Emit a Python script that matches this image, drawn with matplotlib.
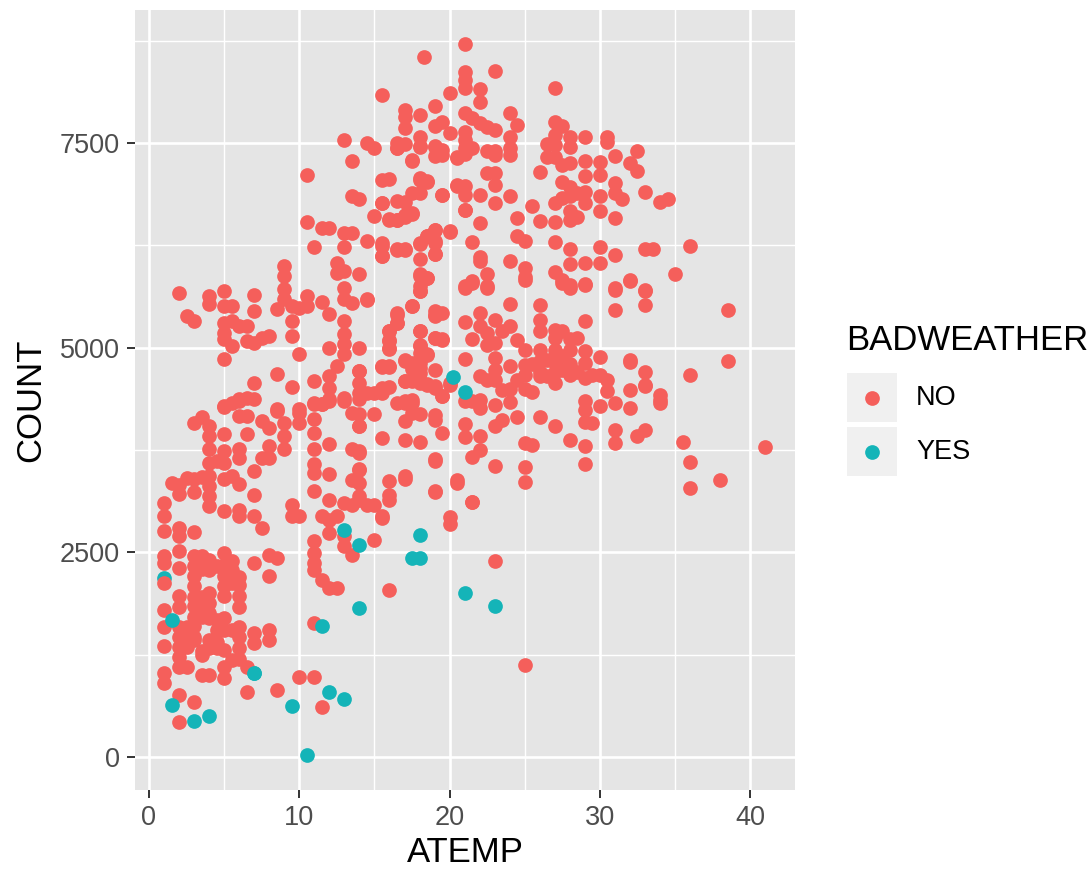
"""Scatter of daily COUNT against ATEMP, split by BADWEATHER (ggplot look)."""

import matplotlib

matplotlib.use("Agg")
import matplotlib.pyplot as plt
from matplotlib.patches import Rectangle

# (ATEMP, COUNT), one list per temperature band
no_cold = [
    (1, 3105), (1, 2940), (1, 2757), (1, 2450), (1, 2370), (1, 2124), (1, 1797), (1, 1593), (1, 1356), (1, 1021), (1, 899),
    (1.5, 3350), (2, 3207), (2, 3320), (2, 2798), (2, 2696), (2, 2512), (2, 2308), (2, 1961), (2, 1838), (2, 1593),
    (2, 1470), (2, 1348), (2, 1225), (2, 1103), (2, 756), (2, 429), (2, 5670),
    (2.5, 3411), (2.5, 1593), (2.5, 1470), (2.5, 1348), (2.5, 1103), (2.5, 5386),
    (3, 3390), (3, 3240), (3, 2748), (3, 2450), (3, 2330), (3, 2205), (3, 2085), (3, 1960), (3, 1840), (3, 1715),
    (3, 1595), (3, 1470), (3, 1430), (3, 675), (3, 4080), (3, 5325),
    (3.5, 3420), (3.5, 4150), (3.5, 2450), (3.5, 2300), (3.5, 1960), (3.5, 1840), (3.5, 1715), (3.5, 1300), (3.5, 1240), (3.5, 1000),
    (4, 4040), (4, 3920), (4, 3757), (4, 3595), (4, 3430), (4, 3310), (4, 3185), (4, 3065), (4, 2410), (4, 2286),
    (4, 2000), (4, 1880), (4, 1760), (4, 1700), (4, 1430), (4, 1327), (4, 1000), (4, 5630), (4, 5528),
    (4.5, 3615), (4.5, 2330), (4.5, 1675), (4.5, 1550), (4.5, 1400), (4.5, 1327),
    (5, 3940), (5, 3738), (5, 3595), (5, 3390), (5, 3003), (5, 2492), (5, 2349), (5, 2206), (5, 2083), (5, 1961),
    (5, 1695), (5, 1552), (5, 1307), (5, 1103), (5, 960), (5, 4270), (5, 4288), (5, 4858), (5, 5100), (5, 5183),
    (5, 5305), (5, 5508), (5, 5690),
    (5.5, 3431), (5.5, 2400), (5.5, 2288), (5.5, 2124), (5.5, 1552), (5.5, 1185), (5.5, 4329), (5.5, 5020), (5.5, 5325), (5.5, 5508),
    (6, 3758), (6, 3656), (6, 3329), (6, 3023), (6, 2941), (6, 2200), (6, 2100), (6, 1961), (6, 1838), (6, 1593), (6, 1470), (6, 1328),
    (6, 1200), (6, 4350), (6, 4167), (6, 4370), (6, 5264),
    (6.5, 3940), (6.5, 797), (6.5, 1103), (6.5, 4167), (6.5, 4390), (6.5, 5264), (6.5, 5080),
    (7, 3493), (7, 3195), (7, 2941), (7, 2369), (7, 1511), (7, 1389), (7, 4370), (7, 4573), (7, 5060), (7, 5447), (7, 5640),
    (7.5, 2798), (7.5, 3656), (7.5, 4105), (7.5, 5120),
    (8, 3799), (8, 3656), (8, 2471), (8, 2206), (8, 1552), (8, 1430), (8, 4024), (8, 5142),
    (8.5, 4228), (8.5, 817), (8.5, 2430), (8.5, 4248), (8.5, 4675), (8.5, 5467),
    (9, 3758), (9, 3921), (9, 4085), (9, 5996), (9, 5874), (9, 5711), (9, 5590),
    (9.5, 3084), (9.5, 2941), (9.5, 4524), (9.5, 5325), (9.5, 5142), (9.5, 5508),
]

no_mild = [
    (10, 2941), (10, 4207), (10, 4085), (10, 980), (10, 4248), (10, 4919), (10, 5488),
    (10.5, 5508), (10.5, 5630), (10.5, 6532), (10.5, 7114),
    (11, 4126), (11, 3962), (11, 3758), (11, 3574), (11, 3472), (11, 3248), (11, 2635), (11, 2492), (11, 2369),
    (11, 2288), (11, 980), (11, 1634), (11, 4310), (11, 4329), (11, 4593), (11, 6232),
    (11.5, 2941), (11.5, 2165), (11.5, 613), (11.5, 4310), (11.5, 4309), (11.5, 5560), (11.5, 6463),
    (12, 3820), (12, 3452), (12, 3145), (12, 2900), (12, 2737), (12, 2063), (12, 4350), (12, 4370), (12, 4512),
    (12, 4654), (12, 5000), (12, 5406), (12, 6463),
    (12.5, 2063), (12.5, 2941), (12.5, 4776), (12.5, 5915), (12.5, 6037),
    (13, 3105), (13, 2696), (13, 2574), (13, 4350), (13, 4390), (13, 4919), (13, 5040), (13, 5163), (13, 5325),
    (13, 5590), (13, 5732), (13, 5935), (13, 6232), (13, 6402), (13, 7540),
    (13.5, 2471), (13.5, 3758), (13.5, 4207), (13.5, 3080), (13.5, 3380), (13.5, 5549), (13.5, 6402), (13.5, 6858), (13.5, 7276),
    (14, 4187), (14, 3513), (14, 3350), (14, 3145), (14, 4044), (14, 3717), (14, 3734), (14, 3510), (14, 3185),
    (14, 4040), (14, 4711), (14, 4447), (14, 4370), (14, 4573), (14, 4715), (14, 5000), (14, 5894), (14, 6817),
    (14.5, 3080), (14.5, 4451), (14.5, 5590), (14.5, 5586), (14.5, 6300), (14.5, 7500),
    (15, 2650), (15, 3075), (15, 4190), (15, 4451), (15, 6606), (15, 7439),
    (15.5, 2941), (15.5, 2920), (15.5, 3897), (15.5, 4447), (15.5, 4512), (15.5, 4764), (15.5, 4776), (15.5, 6118),
    (15.5, 6240), (15.5, 6768), (15.5, 7053), (15.5, 6114), (15.5, 6276), (15.5, 6764), (15.5, 8085),
    (16, 2040), (16, 3205), (16, 3376), (16, 3140), (16, 4520), (16, 4764), (16, 4776), (16, 4980), (16, 5000),
    (16, 5081), (16, 5098), (16, 5200), (16, 5203), (16, 6565), (16, 6570), (16, 7057),
    (16.5, 4329), (16.5, 5301), (16.5, 5305), (16.5, 5403), (16.5, 5427), (16.5, 6195), (16.5, 6200), (16.5, 6560),
    (16.5, 6565), (16.5, 6789), (16.5, 7435), (16.5, 7439), (16.5, 7504),
    (17, 3429), (17, 3400), (17, 3869), (17, 4100), (17, 4329), (17, 4345), (17, 4589), (17, 4593), (17, 4837),
    (17, 4853), (17, 6195), (17, 6200), (17, 6600), (17, 6626), (17, 6776), (17, 7490), (17, 7687), (17, 7821), (17, 7902),
    (17.5, 4202), (17.5, 4329), (17.5, 4365), (17.5, 4589), (17.5, 4735), (17.5, 4813), (17.5, 5508), (17.5, 5513),
    (17.5, 6638), (17.5, 6642), (17.5, 6890), (17.5, 7280), (17.5, 7288),
    (18, 3844), (18, 4190), (18, 4569), (18, 4593), (18, 4695), (18, 4752), (18, 4817), (18, 4935), (18, 5020),
    (18, 5037), (18, 5200), (18, 5203), (18, 5688), (18, 5691), (18, 5748), (18, 5870), (18, 5894), (18, 6085),
    (18, 6268), (18, 6280), (18, 6886), (18, 7049), (18, 7073), (18, 7455), (18, 7460), (18, 7577), (18, 7841),
    (18.3, 8545), (18.5, 4548), (18.5, 4553), (18.5, 4915), (18.5, 4919), (18.5, 5850), (18.5, 5854), (18.5, 6358),
    (18.5, 6360), (18.5, 7020), (18.5, 7033),
    (19, 3238), (19, 3250), (19, 3620), (19, 3645), (19, 4121), (19, 4182), (19, 4512), (19, 4528), (19, 4723),
    (19, 5118), (19, 5122), (19, 5386), (19, 5403), (19, 5447), (19, 6138), (19, 6142), (19, 6280), (19, 6297),
    (19, 6439), (19, 6443), (19, 7337), (19, 7447), (19, 7460), (19, 7707), (19, 7951),
    (19.5, 3958), (19.5, 4406), (19.5, 4410), (19.5, 5098), (19.5, 5102), (19.5, 5423), (19.5, 6866), (19.5, 6870),
    (19.5, 7354), (19.5, 7420), (19.5, 7760),
]

no_warm = [
    (20, 2850), (20, 2932), (20, 4548), (20, 4573), (20, 6410), (20, 6423), (20, 7626), (20, 8114),
    (20.5, 3348), (20.5, 3380), (20.5, 6980), (20.5, 6990), (20.5, 7317), (20.5, 7325),
    (21, 3909), (21, 4072), (21, 4345), (21, 4866), (21, 5309), (21, 5728), (21, 5748), (21, 6683), (21, 6687),
    (21, 6866), (21, 6980), (21, 7366), (21, 7435), (21, 7537), (21, 7638), (21, 7862), (21, 8167), (21, 8268),
    (21, 8370), (21, 8707),
    (21.5, 3116), (21.5, 3110), (21.5, 3661), (21.5, 4345), (21.5, 5106), (21.5, 5790), (21.5, 5809), (21.5, 6289),
    (21.5, 7435), (21.5, 7800),
    (22, 3755), (22, 3917), (22, 4260), (22, 4365), (22, 4658), (22, 5260), (22, 5423), (22, 6053), (22, 6106),
    (22, 6528), (22, 6866), (22, 7740), (22, 7996), (22, 8154),
    (22.5, 4609), (22.5, 5037), (22.5, 5179), (22.5, 5728), (22.5, 5748), (22.5, 5902), (22.5, 7130), (22.5, 7402), (22.5, 7700),
    (23, 2394), (23, 3551), (23, 4039), (23, 4304), (23, 4609), (23, 4731), (23, 4874), (23, 5057), (23, 5342),
    (23, 6764), (23, 6988), (23, 7130), (23, 7354), (23, 7402), (23, 7659), (23, 8382),
    (23.5, 4121), (23.5, 4487), (23.5, 5200),
    (24, 4333), (24, 4500), (24, 4772), (24, 5260), (24, 5537), (24, 6053), (24, 6854), (24, 7354), (24, 7435), (24, 7577), (24, 7862),
    (24.5, 4153), (24.5, 4600), (24.5, 5098), (24.5, 6366), (24.5, 6581), (24.5, 7720),
    (25, 1124), (25, 3356), (25, 3543), (25, 3836), (25, 4500), (25, 4670), (25, 4792), (25, 4976), (25, 5830), (25, 5862),
    (25, 5972), (25, 6297),
    (25.5, 3807), (25.5, 4459), (25.5, 4800), (25.5, 6732),
    (26, 4153), (26, 4650), (26, 4700), (26, 4833), (26, 4976), (26, 5200), (26, 5342), (26, 5525), (26, 6541), (26, 7142),
    (26.5, 4650), (26.5, 4850), (26.5, 7333), (26.5, 7488),
    (27, 4039), (27, 4569), (27, 4700), (27, 4813), (27, 4976), (27, 5118), (27, 5220), (27, 5919), (27, 6289), (27, 6533),
    (27, 6772), (27, 7333), (27, 7476), (27, 7598), (27, 7760), (27, 8167),
    (27.5, 4731), (27.5, 4900), (27.5, 5200), (27.5, 5790), (27.5, 5829), (27.5, 6825), (27.5, 7028), (27.5, 7232), (27.5, 7707),
    (28, 3877), (28, 4670), (28, 4800), (28, 4976), (28, 5100), (28, 5729), (28, 5768), (28, 6024), (28, 6203), (28, 6561), (28, 6663),
    (28, 6858), (28, 6967), (28, 7252), (28, 7455), (28, 7577),
    (28.5, 4700), (28.5, 5118), (28.5, 6594), (28.5, 6886),
    (29, 3584), (29, 3795), (29, 4088), (29, 4243), (29, 4345), (29, 4630), (29, 4813), (29, 4955), (29, 5321),
    (29, 5769), (29, 5780), (29, 6033), (29, 6772), (29, 6906), (29, 7102), (29, 7280), (29, 7577),
    (29.5, 4080), (29.5, 4670),
    (30, 4292), (30, 4670), (30, 4886), (30, 6033), (30, 6224), (30, 6663), (30, 6858), (30, 7110), (30, 7264),
    (30.5, 4467), (30.5, 4609), (30.5, 7516), (30.5, 7577),
    (31, 3836), (31, 3990), (31, 4324), (31, 5464), (31, 5708), (31, 5728), (31, 6134), (31, 6581), (31, 6886),
    (31, 7008), (31, 7345),
    (31.5, 6817), (32, 4263), (32, 4487), (32, 4825), (32, 4845), (32, 5810), (32, 5821), (32, 7260),
    (32.5, 3917), (32.5, 7163), (32.5, 7402),
    (33, 3990), (33, 4532), (33, 4548), (33, 4700), (33, 5525), (33, 5688), (33, 5707), (33, 6203), (33, 6898),
    (33.5, 6203), (34, 4324), (34, 4365), (34, 4421), (34, 6776), (34.5, 6817),
    (35, 5898), (35.5, 3850), (36, 3286), (36, 3600), (36, 4666), (36, 6236),
    (38, 3383), (38.5, 4837), (38.5, 5460), (41, 3786),
]

# these two sit underneath the NO points in the picture
yes_under = [(1, 2185), (7, 1021)]
yes_over = [
    (1.5, 633), (1.5, 1675), (3, 437), (4, 502), (7, 1030), (9.5, 620), (10.5, 20), (11.5, 1605), (12, 788), (13, 703),
    (13, 2770), (14, 1818), (14, 2594), (17.5, 2430), (18, 2430), (18, 2710), (20.2, 4642), (21, 4459), (21, 2003), (23, 1844),
]

x_ticks = [0, 10, 20, 30, 40]
x_minor = [5, 15, 25, 35]
y_ticks = [0, 2500, 5000, 7500]
y_minor = [1250, 3750, 6250, 8750]
legend_labels = ["NO", "YES"]

RED = "#F55F5B"
TEAL = "#14B4B8"
PANEL = "#E5E5E5"
KEY_BG = "#F0F0F0"
TICK_TEXT = "#4D4D4D"
FONT = "Liberation Sans"
W, H = 1092, 871

plt.rcParams["font.family"] = FONT

fig = plt.figure(figsize=(W / 100, H / 100), dpi=100, facecolor="white")
# panel runs from x=135..795 and y=10..790 in pixels
ax = fig.add_axes([135 / W, 1 - 790 / H, 660 / W, 780 / H], facecolor=PANEL)
ax.set_xlim(-0.93, 42.98)
ax.set_ylim(-403, 9124)
for s in ax.spines.values():
    s.set_visible(False)

ax.set_xticks(x_ticks)
ax.set_xticks(x_minor, minor=True)
ax.set_yticks(y_ticks)
ax.set_yticks(y_minor, minor=True)
ax.grid(True, which="major", color="white", lw=1.9, zorder=1)
ax.grid(True, which="minor", color="white", lw=1.0, zorder=1)
ax.set_axisbelow(True)
ax.tick_params(which="major", length=6, width=1.4, color="#333333", labelcolor=TICK_TEXT, labelsize=19.5, pad=5)
ax.tick_params(which="minor", length=0)
ax.set_xlabel("ATEMP", fontsize=25, labelpad=3.5)
ax.set_ylabel("COUNT", fontsize=25, labelpad=9)


def scatter(points, color, zorder):
    xs = [p[0] for p in points]
    ys = [p[1] for p in points]
    ax.scatter(xs, ys, s=112, color=color, linewidths=0, zorder=zorder)


scatter(yes_under, TEAL, 2)
scatter(no_cold + no_mild + no_warm, RED, 3)
scatter(yes_over, TEAL, 4)

# legend drawn by hand in pixel coordinates
lg = fig.add_axes([0, 0, 1, 1], facecolor="none")
lg.set_xlim(0, W)
lg.set_ylim(H, 0)
lg.axis("off")
lg.text(846, 340, "BADWEATHER", fontsize=25, ha="left", va="center")
for label, color, top in zip(legend_labels, [RED, TEAL], [373, 427]):
    lg.add_patch(Rectangle((847, top), 50, 49, fc=KEY_BG, ec="none"))
    lg.scatter([872], [top + 24.5], s=112, color=color, linewidths=0)
    lg.text(916, top + 25, label, fontsize=19.5, ha="left", va="center")

fig.savefig("out.png", dpi=100, facecolor="white")
